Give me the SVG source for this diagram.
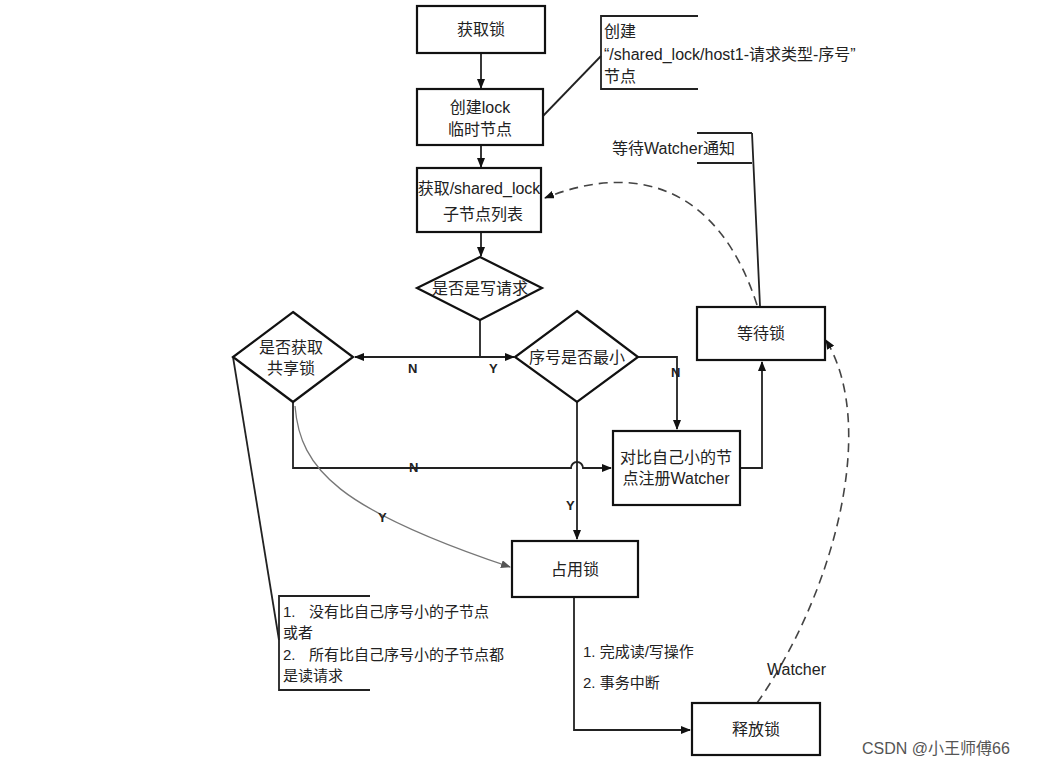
<svg xmlns="http://www.w3.org/2000/svg" width="1056" height="766" viewBox="0 0 1056 766">
<defs>
<marker id="ah" markerWidth="10" markerHeight="8" refX="9" refY="4" orient="auto" markerUnits="userSpaceOnUse">
<path d="M0,0 L10,4 L0,8 z" fill="#111"/>
</marker>
<marker id="ahg" markerWidth="10" markerHeight="8" refX="9" refY="4" orient="auto" markerUnits="userSpaceOnUse">
<path d="M0,0 L10,4 L0,8 z" fill="#555"/>
</marker>
</defs>
<style>
.box{fill:#fff;stroke:#111;stroke-width:2.2}
.t{font-family:"Liberation Sans","Noto Sans CJK SC",sans-serif;font-size:16px;fill:#222}
.s{font-size:15px}
.c{text-anchor:middle}
.ln{fill:none;stroke:#222;stroke-width:1.8}
.dash{fill:none;stroke:#444;stroke-width:1.6;stroke-dasharray:9 6}
.lbl{font-family:"Liberation Sans","Noto Sans CJK SC",sans-serif;font-size:13px;fill:#222;font-weight:bold}
</style>
<rect width="1056" height="766" fill="#fff"/>

<g id="connectors">
<path class="ln" d="M481 53 V88" marker-end="url(#ah)"/>
<path class="ln" d="M481 145 V167" marker-end="url(#ah)"/>
<path class="ln" d="M481 232 V256" marker-end="url(#ah)"/>
<path class="ln" d="M480 320 V357"/>
<path class="ln" d="M480 357 H355" marker-end="url(#ah)"/>
<path class="ln" d="M480 357 H514" marker-end="url(#ah)"/>
<path class="ln" d="M638 357 H677 V429" marker-end="url(#ah)"/>
<path class="ln" d="M740 468 H762 V362" marker-end="url(#ah)"/>
<path class="ln" d="M293 402 V468 H571 A6 6 0 0 1 583 468 H611" marker-end="url(#ah)"/>
<path class="ln" d="M577 402 V539" marker-end="url(#ah)"/>
<path fill="none" stroke="#777" stroke-width="1.3" d="M295 406 C300 470 340 510 510 567" marker-end="url(#ahg)"/>
<path class="ln" d="M574 597 V730 H690" marker-end="url(#ah)"/>
<path class="dash" d="M757 703 C830 600 880 430 826 340" marker-end="url(#ah)"/>
<path class="dash" d="M757 305 C720 190 640 160 545 198" marker-end="url(#ah)"/>
<path class="ln" d="M543 116 L601 56"/>
<path class="ln" d="M698 16 H601 V89 H698"/>
<path class="ln" d="M697 133 H752 M697 163 H752 M752 133 L760 306"/>
<path class="ln" d="M233 357 L279 640"/>
<path class="ln" d="M370 596 H279 V690 H370"/>
<text class="lbl" x="408" y="373">N</text>
<text class="lbl" x="489" y="373">Y</text>
<text class="lbl" x="671" y="377">N</text>
<text class="lbl" x="409" y="472">N</text>
<text class="lbl" x="566" y="510">Y</text>
<text class="lbl" x="378" y="522">Y</text>
<text class="t s" x="583" y="657">1. 完成读/写操作</text>
<text class="t s" x="583" y="688">2. 事务中断</text>
<text class="t" x="767" y="675">Watcher</text>
</g>

<g id="n-acquire"><rect class="box" x="417" y="6" width="128" height="47"/><text class="t c" x="481" y="35">获取锁</text></g>
<g id="n-create"><rect class="box" x="417" y="89" width="126" height="56"/><text class="t c" x="480" y="113">创建lock</text><text class="t c" x="480" y="135">临时节点</text></g>
<g id="n-list"><rect class="box" x="417" y="168" width="124" height="64"/><text class="t c" x="479" y="194">获取/shared_lock</text><text class="t c" x="483" y="220">子节点列表</text></g>
<g id="n-write"><polygon class="box" points="480,257 542,288 480,320 417,288"/><text class="t c" x="480" y="294">是否是写请求</text></g>
<g id="n-shared"><polygon class="box" points="293,312 353,357 293,402 233,357"/><text class="t c" x="291" y="353">是否获取</text><text class="t c" x="291" y="374">共享锁</text></g>
<g id="n-min"><polygon class="box" points="577,311 638,357 577,402 515,357"/><text class="t c" x="577" y="363">序号是否最小</text></g>
<g id="n-watch"><rect class="box" x="613" y="431" width="127" height="74"/><text class="t c" x="676" y="463">对比自己小的节</text><text class="t c" x="676" y="484">点注册Watcher</text></g>
<g id="n-wait"><rect class="box" x="697" y="307" width="128" height="53"/><text class="t c" x="761" y="339">等待锁</text></g>
<g id="n-hold"><rect class="box" x="512" y="541" width="126" height="56"/><text class="t c" x="575" y="575">占用锁</text></g>
<g id="n-release"><rect class="box" x="692" y="703" width="128" height="52"/><text class="t c" x="756" y="735">释放锁</text></g>

<g id="note-create"><text class="t" x="604" y="37">创建</text><text class="t" x="604" y="60">“/shared_lock/host1-请求类型-序号”</text><text class="t" x="604" y="82">节点</text></g>
<g id="note-wait"><text class="t" x="612" y="154">等待Watcher通知</text></g>
<g id="note-cond"><text class="t s" x="283" y="617">1.<tspan x="309">没有比自己序号小的子节点</tspan></text><text class="t s" x="283" y="638">或者</text><text class="t s" x="283" y="660">2.<tspan x="309">所有比自己序号小的子节点都</tspan></text><text class="t s" x="283" y="681">是读请求</text></g>
<text x="862" y="754" style="font-family:'Liberation Sans','Noto Sans CJK SC',sans-serif;font-size:16px" fill="#555">CSDN @小王师傅66</text>
</svg>
